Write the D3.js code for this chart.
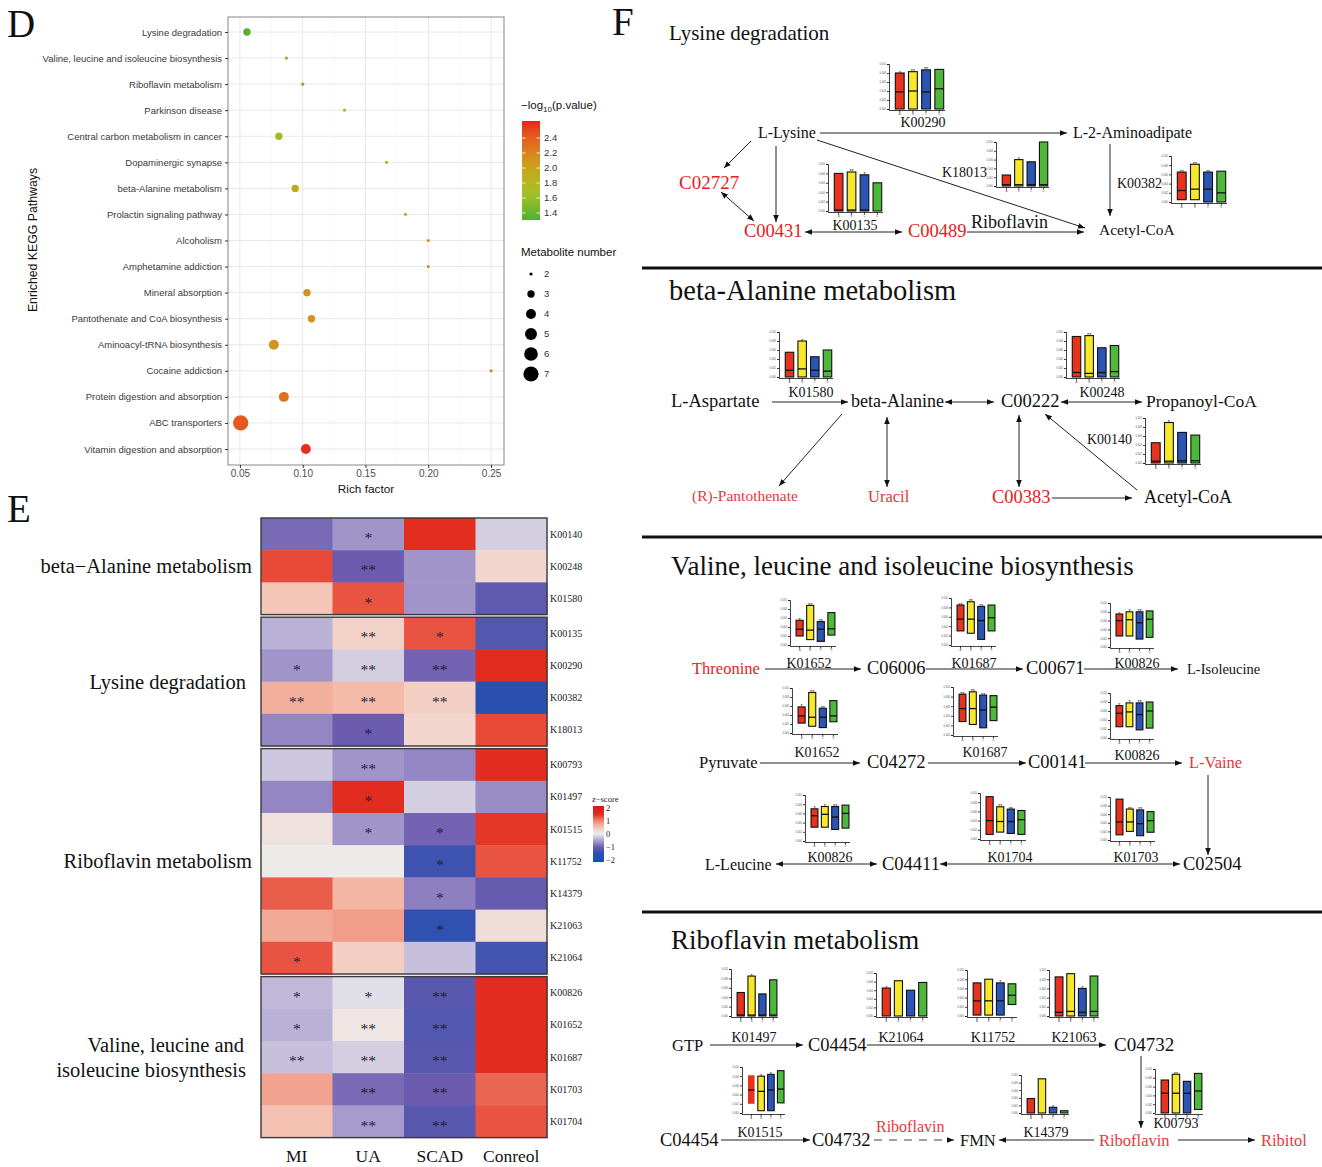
<!DOCTYPE html>
<html><head><meta charset="utf-8">
<script src="https://cdn.jsdelivr.net/npm/d3@7"></script>
<style>body{margin:0;background:#fff}svg{display:block}</style>
</head><body>
<svg id="c" width="1322" height="1167"></svg>
<script>
// ================= DATA =================
// Panel D : KEGG enrichment bubble chart
const pathways = ["Lysine degradation","Valine, leucine and isoleucine biosynthesis","Riboflavin metabolism","Parkinson disease","Central carbon metabolism in cancer","Dopaminergic synapse","beta-Alanine metabolism","Prolactin signaling pathway","Alcoholism","Amphetamine addiction","Mineral absorption","Pantothenate and CoA biosynthesis","Aminoacyl-tRNA biosynthesis","Cocaine addiction","Protein digestion and absorption","ABC transporters","Vitamin digestion and absorption"];
const richFactor = [0.0556,0.087,0.100,0.1333,0.081,0.1667,0.094,0.1818,0.200,0.200,0.1034,0.107,0.077,0.250,0.085,0.0506,0.1025];
const negLogP   = [1.33,1.50,1.45,1.65,1.60,1.90,1.95,1.90,2.10,2.10,2.10,2.12,2.10,2.20,2.30,2.42,2.60];
const metaboliteNum = [3,2,2,2,3,2,3,2,2,2,3,3,4,2,4,7,4];
const richTicks = [0.05,0.10,0.15,0.20,0.25];
const colorTicks = [1.4,1.6,1.8,2.0,2.2,2.4];
const sizeTicks = [2,3,4,5,6,7];

// Panel E : heatmap
const heatGroups = [["beta\u2212Alanine metabolism"],["Lysine degradation"],["Riboflavin metabolism"],["Valine, leucine and","isoleucine biosynthesis"]];
const heatGroupSizes = [3,4,7,5];
const heatRows = ["K00140","K00248","K01580","K00135","K00290","K00382","K18013","K00793","K01497","K01515","K11752","K14379","K21063","K21064","K00826","K01652","K01687","K01703","K01704"];
const heatCols = ["MI","UA","SCAD","Conreol"];
const zScores = [
 [-0.9,-0.6,1.5,-0.2],[1.35,-1.0,-0.6,0.3],[0.5,1.3,-0.6,-1.1],
 [-0.4,0.35,1.3,-1.2],[-0.6,-0.2,-0.95,1.55],[0.7,0.6,0.4,-1.55],[-0.7,-1.0,0.3,1.35],
 [-0.25,-0.6,-0.7,1.55],[-0.7,1.55,-0.2,-0.65],[0.15,-0.6,-0.95,1.45],[0.03,0.03,-1.35,1.3],[1.25,0.65,-0.75,-1.05],[0.75,0.85,-1.45,0.2],[1.3,0.4,-0.3,-1.3],
 [-0.35,-0.1,-1.15,1.55],[-0.4,0.1,-1.2,1.55],[-0.3,-0.2,-1.15,1.55],[0.8,-0.9,-1.0,1.2],[0.55,-0.55,-1.15,1.3]];
const heatStars = [
 ["","*","",""],["","**","",""],["","*","",""],
 ["","**","*",""],["*","**","**",""],["**","**","**",""],["","*","",""],
 ["","**","",""],["","*","",""],["","*","*",""],["","","*",""],["","","*",""],["","","*",""],["*","","",""],
 ["*","*","**",""],["*","**","**",""],["**","**","**",""],["","**","**",""],["","**","**",""]];
const zTicks = [2,1,0,-1,-2];

// Panel F : mini bar charts  [low, high, middle line] per group A-D (fraction of axis)
const miniGroups = ["A","B","C","D"];
const miniTickLabels = ["0.000","0.002","0.004","0.006","0.008","0.010"];
const lysK00290 = [[0,0.80,0.38],[0,0.83,0.40],[0,0.87,0.38],[0,0.88,0.45]];
const lysK00290Sig = ["*","**","**",""];
const lysK18013 = [[0,0.25,0.03],[0,0.60,0.03],[0,0.55,0.03],[0,1.00,0.03]];
const lysK18013Sig = ["","*","",""];
const lysK00135 = [[0,0.80,0.02],[0,0.83,0.02],[0,0.77,0.02],[0,0.60,null]];
const lysK00135Sig = ["","**","*",""];
const lysK00382 = [[0.05,0.65,0.25],[0.05,0.82,0.28],[0,0.65,0.28],[0,0.67,0.20]];
const lysK00382Sig = ["**","**","**",""];
const alaK01580 = [[0,0.55,0.15],[0,0.80,0.18],[0,0.45,0.15],[0,0.60,0.13]];
const alaK01580Sig = ["","*","",""];
const alaK00248 = [[0,0.90,0.10],[0,0.92,0.08],[0,0.65,0.10],[0,0.70,0.12]];
const alaK00248Sig = ["","**","",""];
const alaK00140 = [[0,0.45,0.04],[0,0.90,0.04],[0,0.68,0.05],[0,0.62,0.05]];
const alaK00140Sig = ["","*","",""];
const valK01652a = [[0.20,0.55,0.35],[0.12,0.88,0.33],[0.08,0.52,0.35],[0.22,0.72,0.36]];
const valK01687a = [[0.30,0.85,0.55],[0.25,0.92,0.55],[0.12,0.82,0.52],[0.30,0.85,0.58]];
const valK00826a = [[0.25,0.75,0.60],[0.25,0.80,0.62],[0.18,0.80,0.55],[0.22,0.82,0.63]];
const valK01652b = [[0.22,0.58,0.38],[0.15,0.90,0.35],[0.12,0.55,0.35],[0.25,0.72,0.38]];
const valK01687b = [[0.28,0.85,0.55],[0.22,0.90,0.55],[0.15,0.83,0.52],[0.30,0.82,0.58]];
const valK00826b = [[0.25,0.72,0.55],[0.25,0.78,0.58],[0.18,0.78,0.52],[0.22,0.80,0.60]];
const valK00826c = [[0.30,0.70,0.55],[0.30,0.75,0.58],[0.25,0.75,0.52],[0.28,0.78,0.60]];
const valK01704 = [[0.10,0.92,0.40],[0.15,0.70,0.38],[0.12,0.65,0.38],[0.10,0.62,0.42]];
const valK01703 = [[0.12,0.95,0.42],[0.20,0.72,0.42],[0.10,0.70,0.38],[0.18,0.66,0.45]];
const valK01652Sig = ["*","**","**",""];
const valK01687Sig = ["**","**","**",""];
const valK00826Sig = ["*","*","**",""];
const valK0170xSig = ["","**","**",""];
const ribK01497 = [[0,0.50,0.02],[0,0.85,0.02],[0,0.47,0.02],[0,0.77,0.02]];
const ribK01497Sig = ["","*","",""];
const ribK21064 = [[0,0.65,null],[0,0.82,null],[0,0.60,null],[0,0.78,null]];
const ribK21064Sig = ["*","","",""];
const ribK11752 = [[0.02,0.72,0.33],[0.02,0.80,0.33],[0.02,0.72,0.33],[0.25,0.70,0.45]];
const ribK11752Sig = ["","","*",""];
const ribK21063 = [[0,0.85,0.08],[0,0.92,0.10],[0,0.60,0.08],[0,0.87,0.10]];
const ribK21063Sig = ["","","*",""];
const ribK01515 = [[0.20,0.82,0.50],[0.05,0.80,0.47],[0.05,0.84,0.50],[0.22,0.92,0.52]];
const ribK01515Sig = ["","*","*",""];
const ribK14379 = [[0,0.38,null],[0,0.90,null],[0,0.15,null],[0,0.06,null]];
const ribK14379Sig = ["","","*",""];
const ribK00793 = [[0,0.75,0.45],[0,0.88,0.45],[0,0.72,0.45],[0.08,0.90,0.50]];
const ribK00793Sig = ["","**","",""];

// ================= DRAW =================
const SERIF = "'Liberation Serif','Times New Roman',serif";
const SANS = "'Liberation Sans',Arial,sans-serif";
const svg = d3.select("#c");
svg.append("rect").attr("width",1322).attr("height",1167).attr("fill","#fff");

// panel letters
[["D",7,37],["E",7,522],["F",612,35]].forEach(([t,x,y])=>{
  svg.append("text").text(t).attr("x",x).attr("y",y).attr("font-family",SERIF).attr("font-size",39).attr("fill","#111");
});

// ---------- Panel D ----------
const gD = svg.append("g");
const pL=228,pR=504,pT=17,pB=465;
const xD = d3.scaleLinear().domain([0.0405,0.2603]).range([pL,pR]);
const yD = d3.scalePoint().domain(pathways).range([32,449]);
const cD = d3.scaleLinear().domain([1.3,1.65,2.0,2.3,2.63])
  .range(["#4cb030","#a3c126","#c9a41d","#e0701f","#e8201c"]).interpolate(d3.interpolateLab).clamp(true);
const rD = d3.scaleRadial().domain([2,7]).range([1.6,7.6]);

gD.append("rect").attr("x",pL).attr("y",pT).attr("width",pR-pL).attr("height",pB-pT).attr("fill","#fff");
[0.075,0.125,0.175,0.225].forEach(v=>gD.append("line").attr("x1",xD(v)).attr("x2",xD(v)).attr("y1",pT).attr("y2",pB).attr("stroke","#f3f3f3").attr("stroke-width",0.6));
richTicks.forEach(v=>gD.append("line").attr("x1",xD(v)).attr("x2",xD(v)).attr("y1",pT).attr("y2",pB).attr("stroke","#e8e8e8").attr("stroke-width",1));
pathways.forEach(p=>gD.append("line").attr("x1",pL).attr("x2",pR).attr("y1",yD(p)).attr("y2",yD(p)).attr("stroke","#e8e8e8").attr("stroke-width",1));
gD.selectAll("circle.b").data(pathways).join("circle").attr("class","b")
  .attr("cx",(d,i)=>xD(richFactor[i])).attr("cy",d=>yD(d))
  .attr("r",(d,i)=>rD(metaboliteNum[i])).attr("fill",(d,i)=>cD(negLogP[i]));
gD.append("rect").attr("x",pL).attr("y",pT).attr("width",pR-pL).attr("height",pB-pT).attr("fill","none").attr("stroke","#7a7a7a").attr("stroke-width",0.9);

const axB = gD.append("g").attr("transform",`translate(0,${pB})`)
  .call(d3.axisBottom(xD).tickValues(richTicks).tickFormat(d3.format(".2f")).tickSize(3).tickPadding(2));
axB.select(".domain").remove();
axB.selectAll("line").attr("stroke","#333");
axB.selectAll("text").attr("font-family",SANS).attr("font-size",10).attr("fill","#4d4d4d");
const axL = gD.append("g").attr("transform",`translate(${pL},0)`)
  .call(d3.axisLeft(yD).tickSize(3).tickPadding(3));
axL.select(".domain").remove();
axL.selectAll("line").attr("stroke","#333");
axL.selectAll("text").attr("font-family",SANS).attr("font-size",9.5).attr("fill","#3a3a3a");

gD.append("text").text("Rich factor").attr("x",366).attr("y",493).attr("text-anchor","middle").attr("font-family",SANS).attr("font-size",11.8).attr("fill","#111");
gD.append("text").text("Enriched KEGG Pathways").attr("transform","translate(37,240) rotate(-90)").attr("text-anchor","middle").attr("font-family",SANS).attr("font-size",12.3).attr("fill","#111");

// colour legend
const lgT = gD.append("text").attr("x",521).attr("y",109).attr("font-family",SANS).attr("font-size",11.5).attr("fill","#111");
lgT.append("tspan").text("\u2212log");
lgT.append("tspan").text("10").attr("font-size",8).attr("dy",3);
lgT.append("tspan").text("(p.value)").attr("dy",-3);
const cbY = d3.scaleLinear().domain([1.307,2.627]).range([220,121]);
const defs = svg.append("defs");
const grad = defs.append("linearGradient").attr("id","cbD").attr("x1",0).attr("x2",0).attr("y1",1).attr("y2",0);
d3.range(0,1.0001,0.1).forEach(t=>grad.append("stop").attr("offset",t).attr("stop-color",cD(1.307+t*(2.627-1.307))));
gD.append("rect").attr("x",522).attr("y",121).attr("width",18).attr("height",99).attr("fill","url(#cbD)");
colorTicks.forEach(v=>{
  gD.append("line").attr("x1",522).attr("x2",525.5).attr("y1",cbY(v)).attr("y2",cbY(v)).attr("stroke","#fff").attr("stroke-width",0.8);
  gD.append("line").attr("x1",536.5).attr("x2",540).attr("y1",cbY(v)).attr("y2",cbY(v)).attr("stroke","#fff").attr("stroke-width",0.8);
  gD.append("text").text(v.toFixed(1)).attr("x",544).attr("y",cbY(v)).attr("dy","0.35em").attr("font-family",SANS).attr("font-size",9.5).attr("fill","#333");
});
// size legend
gD.append("text").text("Metabolite number").attr("x",521).attr("y",256).attr("font-family",SANS).attr("font-size",11.5).attr("fill","#111");
const szY = d3.scalePoint().domain(sizeTicks).range([274,374]);
sizeTicks.forEach(v=>{
  gD.append("circle").attr("cx",531).attr("cy",szY(v)).attr("r",rD(v)).attr("fill","#000");
  gD.append("text").text(v).attr("x",544).attr("y",szY(v)).attr("dy","0.35em").attr("font-family",SANS).attr("font-size",9.5).attr("fill","#333");
});

// ---------- Panel E ----------
const gE = svg.append("g");
const rowH = 32.2, gapH = 2.6, hy0 = 518;
const colX = d3.scaleBand().domain(heatCols).range([261,547]);
const rowIdx = d3.scaleLinear().domain([0,1]).range([0,rowH]);
const zCol = d3.scaleLinear().domain([-2,-1.5,-1,-0.5,0,0.5,1,1.5,2])
  .range(["#1c4fb4","#2a50b0","#6c5caf","#ada2d0","#ededed","#f5c6b8","#ef8c74","#e32e1f","#dc1b1b"]);
let gi = [];
heatGroupSizes.forEach((n,g)=>{for(let k=0;k<n;k++)gi.push(g);});
const rowTop = i => hy0 + rowIdx(i) + gi[i]*gapH;
heatRows.forEach((r,i)=>{
  heatCols.forEach((c,j)=>{
    gE.append("rect").attr("x",colX(c)).attr("y",rowTop(i)).attr("width",colX.bandwidth()+0.5).attr("height",rowH+0.5).attr("fill",zCol(zScores[i][j]));
    if(heatStars[i][j]) gE.append("text").text(heatStars[i][j]).attr("x",colX(c)+colX.bandwidth()/2).attr("y",rowTop(i)+rowH/2+9)
      .attr("text-anchor","middle").attr("font-family",SERIF).attr("font-size",15.5).attr("fill","#1d1d38");
  });
  gE.append("text").text(r).attr("x",550).attr("y",rowTop(i)+rowH/2).attr("dy","0.35em").attr("font-family",SERIF).attr("font-size",10).attr("fill","#222");
});
let start=0;
const grpLabelRight=[252,246,252,244];
heatGroupSizes.forEach((n,g)=>{
  const y0=rowTop(start), y1=rowTop(start+n-1)+rowH;
  gE.append("rect").attr("x",261).attr("y",y0).attr("width",286).attr("height",y1-y0).attr("fill","none").attr("stroke","#3a3a3a").attr("stroke-width",1.4);
  const lines = heatGroups[g], mid=(y0+y1)/2;
  lines.forEach((t,k)=>{
    gE.append("text").text(t).attr("x",k==1?246:grpLabelRight[g]).attr("y",mid+7+(k-(lines.length-1)/2)*25)
      .attr("text-anchor","end").attr("font-family",SERIF).attr("font-size",20.5).attr("fill","#111");
  });
  start+=n;
});
heatCols.forEach(c=>gE.append("text").text(c).attr("x",colX(c)+colX.bandwidth()/2).attr("y",1162).attr("text-anchor","middle").attr("font-family",SERIF).attr("font-size",17.5).attr("fill","#111"));
// z legend
gE.append("text").text("z\u2212score").attr("x",592).attr("y",802).attr("font-family",SERIF).attr("font-size",8.5).attr("fill","#222");
const zY = d3.scaleLinear().domain([-2.15,2.15]).range([862,806]);
const gz = defs.append("linearGradient").attr("id","cbE").attr("x1",0).attr("x2",0).attr("y1",1).attr("y2",0);
d3.range(0,1.0001,0.05).forEach(t=>gz.append("stop").attr("offset",t).attr("stop-color",zCol(-2.15+t*4.3)));
gE.append("rect").attr("x",593).attr("y",806).attr("width",11).attr("height",56).attr("fill","url(#cbE)");
zTicks.forEach(v=>gE.append("text").text(v<0?"\u2212"+Math.abs(v):v).attr("x",606).attr("y",zY(v)).attr("dy","0.35em").attr("font-family",SERIF).attr("font-size",8.5).attr("fill","#222"));

// ---------- Panel F ----------
const gF = svg.append("g");
const mk = defs.append("marker").attr("id","ah").attr("viewBox","0 0 10 10").attr("refX",10).attr("refY",5)
  .attr("markerWidth",7).attr("markerHeight",7).attr("markerUnits","userSpaceOnUse").attr("orient","auto-start-reverse");
mk.append("path").attr("d","M0,1 L10,5 L0,9 Z").attr("fill","#111");
function arrow(x1,y1,x2,y2,both,dash){
  const l=gF.append("line").attr("x1",x1).attr("y1",y1).attr("x2",x2).attr("y2",y2).attr("stroke","#222").attr("stroke-width",1).attr("marker-end","url(#ah)");
  if(both) l.attr("marker-start","url(#ah)");
  if(dash) l.attr("stroke-dasharray",dash).attr("stroke","#444");
}
function label(t,x,y,size,color,anchor){
  gF.append("text").text(t).attr("x",x).attr("y",y).attr("font-family",SERIF).attr("font-size",size).attr("fill",color||"#111").attr("text-anchor",anchor||"start");
}
const RED="#e21d1d", RED2="#e5383a";
const barCols = ["#e8321e","#f6e82a","#2a55b5","#4eb83b"];
function mini(data,sig,ax,top,w,h,noOutlineFirst){
  const g=gF.append("g");
  const y=d3.scaleLinear().domain([0,1]).range([top+h,top]);
  const x=d3.scaleBand().domain(miniGroups).range([ax+5,ax+w]).paddingInner(0.33).paddingOuter(0.1);
  const ya=g.append("g").attr("transform",`translate(${ax},0)`).call(d3.axisLeft(y).tickValues(d3.range(0,1.01,0.2)).tickFormat((d,i)=>miniTickLabels[i]).tickSize(2).tickPadding(1));
  ya.selectAll("text").attr("font-size",2.6).attr("font-family",SANS).attr("fill","#555");
  ya.selectAll("line,path").attr("stroke","#111").attr("stroke-width",0.8);
  const xa=g.append("g").attr("transform",`translate(0,${top+h+1.5})`).call(d3.axisBottom(x).tickSize(2).tickPadding(1));
  xa.selectAll("text").attr("font-size",2.8).attr("font-family",SANS).attr("fill","#555");
  xa.selectAll("line,path").attr("stroke","#111").attr("stroke-width",0.8);
  xa.select(".domain").attr("d",`M${ax},0H${ax+w}`);
  data.forEach((d,i)=>{
    const bx=x(miniGroups[i]), bw=x.bandwidth();
    g.append("rect").attr("x",bx).attr("y",y(d[1])).attr("width",bw).attr("height",Math.max(1,y(d[0])-y(d[1])))
      .attr("fill",barCols[i]).attr("stroke",(noOutlineFirst&&i==0)?"none":"#111").attr("stroke-width",1.1);
    if(d[2]!=null) g.append("line").attr("x1",bx).attr("x2",bx+bw).attr("y1",y(d[2])).attr("y2",y(d[2])).attr("stroke","#111").attr("stroke-width",1.3);
    if(sig[i]) g.append("text").text(sig[i]).attr("x",bx+bw/2).attr("y",y(d[1])+1.5).attr("text-anchor","middle").attr("font-family",SANS).attr("font-size",5.5).attr("fill","#222");
  });
}

// separators
[268,537,912].forEach(y=>gF.append("line").attr("x1",642).attr("x2",1322).attr("y1",y).attr("y2",y).attr("stroke","#111").attr("stroke-width",3));

// Lysine degradation
label("Lysine degradation",669,40,21);
mini(lysK00290,lysK00290Sig,889,64,56,45); label("K00290",923,127,14,"#111","middle");
label("L-Lysine",758,138,16);
label("L-2-Aminoadipate",1073,138,16);
arrow(820,133,1067,133);
label("C02727",679,189,19,RED);
label("C00431",744,237,18.5,RED);
label("C00489",908,237,18.5,RED);
label("Riboflavin",971,228,18);
label("Acetyl-CoA",1099,235,15.5);
mini(lysK00135,lysK00135Sig,828,164,55,47); label("K00135",855,230,14,"#111","middle");
label("K18013",942,177,14);
mini(lysK18013,lysK18013Sig,996,142,53,44);
label("K00382",1117,188,14);
mini(lysK00382,lysK00382Sig,1171,156,56,46);
arrow(751,141,724,168);
arrow(776,146,776,222);
arrow(721,192,754,221,true);
arrow(805,232,902,232,true);
arrow(967,232,1084,232);
arrow(817,140,1085,228);
arrow(1110,144,1110,216);

// beta-Alanine metabolism
label("beta-Alanine metabolism",669,300,28.5);
mini(alaK01580,alaK01580Sig,779,332,54,45); label("K01580",811,397,14,"#111","middle");
label("L-Aspartate",671,407,18.5);
arrow(772,402,848,402);
label("beta-Alanine",851,407,18);
arrow(945,402,994,402,true);
label("C00222",1001,407,18.5);
arrow(1061,402,1142,402,true);
label("Propanoyl-CoA",1146,407,17.5);
mini(alaK00248,alaK00248Sig,1066,332,54,45); label("K00248",1102,397,14,"#111","middle");
label("K00140",1087,444,14);
mini(alaK00140,alaK00140Sig,1145,418,56,45);
label("(R)-Pantothenate",692,501,15.5,RED2);
label("Uracil",868,502,16.5,RED2);
label("C00383",992,503,18.5,RED);
label("Acetyl-CoA",1144,503,18);
arrow(842,414,779,486);
arrow(887,417,887,487,true);
arrow(1019,415,1019,487,true);
arrow(1052,498,1132,498);
arrow(1137,490,1045,414);

// Valine, leucine and isoleucine biosynthesis
label("Valine, leucine and isoleucine biosynthesis",671,575,27);
mini(valK01652a,valK01652Sig,790,600,46,45); label("K01652",809,668,14,"#111","middle");
mini(valK01687a,valK01687Sig,951,598,45,47); label("K01687",974,668,14,"#111","middle");
mini(valK00826a,valK00826Sig,1110,603,44,44); label("K00826",1137,668,14,"#111","middle");
label("Threonine",692,674,16.5,RED);
label("C06006",867,674,18.5);
label("C00671",1026,674,18.5);
label("L-Isoleucine",1187,674,14.5);
arrow(765,669,861,669); arrow(926,669,1023,669); arrow(1084,669,1178,669);
mini(valK01652b,valK01652Sig,792,688,46,45); label("K01652",817,757,14,"#111","middle");
mini(valK01687b,valK01687Sig,953,687,45,48); label("K01687",985,757,14,"#111","middle");
mini(valK00826b,valK00826Sig,1110,693,44,45); label("K00826",1137,760,14,"#111","middle");
label("Pyruvate",699,768,16.5);
label("C04272",867,768,18.5);
label("C00141",1028,768,18.5);
label("L-Vaine",1189,768,16.5,RED2);
arrow(760,763,860,763); arrow(928,763,1026,763); arrow(1085,763,1182,763);
arrow(1208,775,1208,855);
mini(valK00826c,valK00826Sig,805,795,45,46); label("K00826",830,862,14,"#111","middle");
mini(valK01704,valK0170xSig,980,793,46,46); label("K01704",1010,862,14,"#111","middle");
mini(valK01703,valK0170xSig,1110,797,45,43); label("K01703",1136,862,14,"#111","middle");
label("L-Leucine",705,870,16);
label("C04411",882,870,18.5);
label("C02504",1183,870,18.5);
arrow(776,864,877,864,true); arrow(940,864,1180,864,true);

// Riboflavin metabolism
label("Riboflavin metabolism",671,949,27);
mini(ribK01497,ribK01497Sig,731,969,47,47); label("K01497",754,1042,14,"#111","middle");
mini(ribK21064,ribK21064Sig,876,973,52,43); label("K21064",901,1042,14,"#111","middle");
mini(ribK11752,ribK11752Sig,967,970,50,46); label("K11752",993,1042,14,"#111","middle");
mini(ribK21063,ribK21063Sig,1049,970,50,46); label("K21063",1074,1042,14,"#111","middle");
label("GTP",672,1051,16.5);
label("C04454",808,1051,18.5);
label("C04732",1114,1051,19);
arrow(710,1045,803,1045); arrow(867,1045,1106,1045); arrow(1141,1056,1141,1128);
mini(ribK01515,ribK01515Sig,742,1067,43,46,true); label("K01515",760,1137,14,"#111","middle");
mini(ribK14379,ribK14379Sig,1021,1075,48,38); label("K14379",1046,1137,14,"#111","middle");
mini(ribK00793,ribK00793Sig,1155,1069,48,44); label("K00793",1176,1128,14,"#111","middle");
label("C04454",660,1146,18.5);
label("C04732",812,1146,18.5);
label("Riboflavin",876,1132,16,RED2);
label("FMN",960,1146,16.5);
label("Riboflavin",1099,1146,16.5,RED2);
label("Ribitol",1261,1146,16.5,RED2);
arrow(721,1140,810,1140);
arrow(874,1140,954,1140,false,"8,7");
arrow(1094,1140,999,1140);
arrow(1178,1140,1255,1140);
</script>
</body></html>
